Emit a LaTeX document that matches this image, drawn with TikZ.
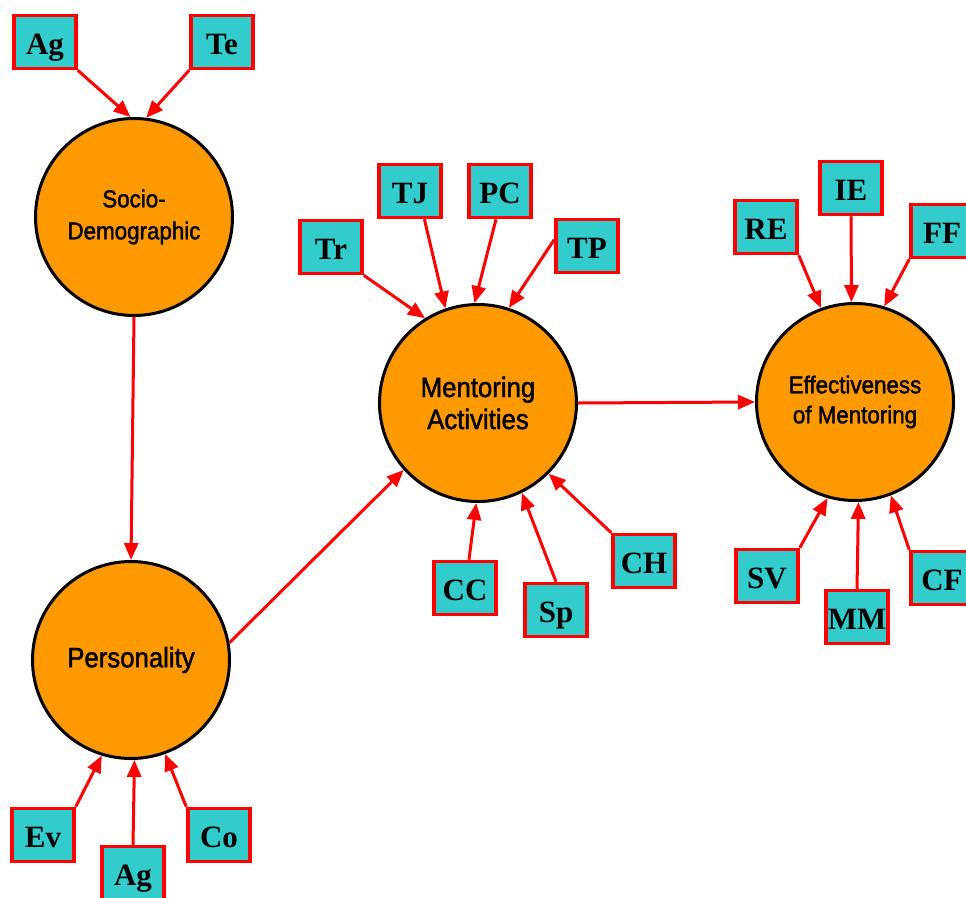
\documentclass[tikz,border=0pt]{standalone}
\usepackage{fontspec}
\setmainfont{Liberation Serif}
\newfontfamily\discsans[FakeStretch=0.92,FakeBold=1.6]{Liberation Sans}
\usetikzlibrary{arrows.meta}
\definecolor{boxfill}{HTML}{33CCCC}
\definecolor{discfill}{HTML}{FF9900}
\definecolor{linkred}{HTML}{FF0000}

\begin{document}
\begin{tikzpicture}[x=1pt,y=-1pt,
  factor/.style={circle, draw=black, line width=3pt, fill=discfill,
    minimum size=197pt, inner sep=0pt, align=center},
  item/.style={rectangle, draw=linkred, line width=3.5pt, fill=boxfill,
    minimum width=62pt, minimum height=53pt, inner sep=0pt,
    text height=24pt, text depth=0pt,
    font=\fontsize{31}{31}\selectfont\bfseries},
  link/.style={draw=linkred, line width=3pt,
    -{Triangle[length=17pt,width=14pt]}}]

\useasboundingbox (0,0) rectangle (966,897);

% main factors
\node[factor, font=\discsans\fontsize{24.3}{32}\selectfont] (socio) at (134,217) {Socio-\\Demographic};
\node[factor, font=\discsans\fontsize{28}{32}\selectfont] (pers) at (131,660) {Personality};
\node[factor, font=\discsans\fontsize{28}{32}\selectfont] (ment) at (478,403) {Mentoring\\Activities};
\node[factor, font=\discsans\fontsize{24.3}{30}\selectfont] (eff) at (855,402) {Effectiveness\\of Mentoring};

% indicator boxes
\node[item] (agA) at (45,42)   {Ag};
\node[item] (te)  at (222,42)  {Te};
\node[item] (tr)  at (331,247) {Tr};
\node[item] (tj)  at (410,191) {TJ};
\node[item] (pc)  at (500,191) {PC};
\node[item] (tp)  at (587,246) {TP};
\node[item] (re)  at (766,227) {RE};
\node[item] (ie)  at (851,188) {IE};
\node[item] (ff)  at (942,231) {FF};
\node[item] (cc)  at (465,588) {CC};
\node[item] (sp)  at (556,610) {Sp};
\node[item] (ch)  at (644,561) {CH};
\node[item] (sv)  at (767,576) {SV};
\node[item] (mm)  at (857,617) {MM};
\node[item] (cf)  at (942,578) {CF};
\node[item] (ev)  at (43,835)  {Ev};
\node[item] (agB) at (133,873) {Ag};
\node[item] (co)  at (219,835) {Co};

% links between factors
\draw[link] (socio.south) -- (pers.north);
\draw[link] (pers.10) -- (ment.222);
\draw[link] (ment.east) -- (eff.west);

% indicator links
\draw[link] (agA.south east) -- (socio.92);
\draw[link] (te.south west) -- (socio.83);

\draw[link] (tr.south east) -- (ment.122);
\draw[link] (tj.-63) -- (ment.109);
\draw[link] (pc.-98) -- (ment.92);
\draw[link] (tp.169) -- (ment.72);
\draw[link] (cc.82) -- (ment.269);
\draw[link] (sp.north) -- (ment.296);
\draw[link] (ch.north west) -- (ment.315);

\draw[link] (re.south east) -- (eff.110);
\draw[link] (ie.south) -- (eff.92);
\draw[link] (ff.south west) -- (eff.73);
\draw[link] (sv.north east) -- (eff.254);
\draw[link] (mm.north) -- (eff.272);
\draw[link] (cf.north west) -- (eff.291);

\draw[link] (ev.north east) -- (pers.253);
\draw[link] (agB.north) -- (pers.272);
\draw[link] (co.north west) -- (pers.290);
\end{tikzpicture}
\end{document}
